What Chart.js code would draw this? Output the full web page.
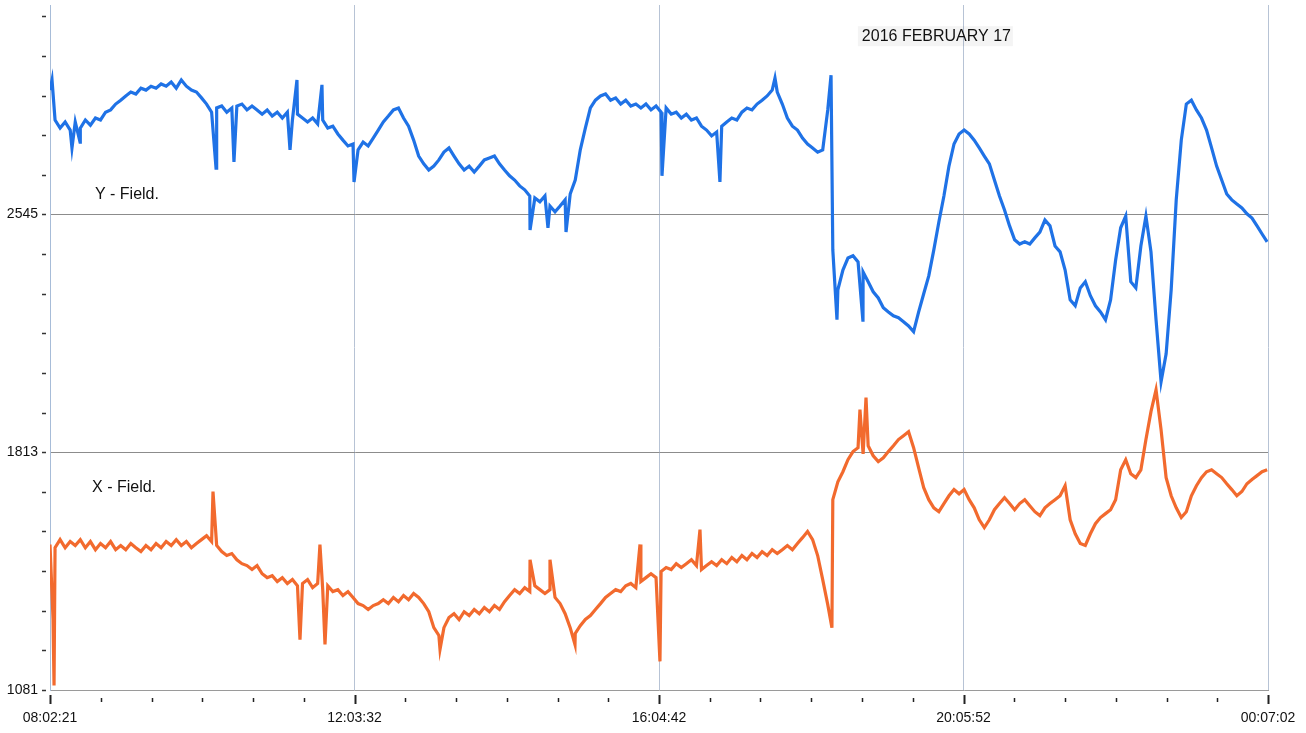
<!DOCTYPE html>
<html>
<head>
<meta charset="utf-8">
<script src="https://cdn.jsdelivr.net/npm/chart.js@4/dist/chart.umd.min.js"></script>
<style>
  html, body { margin: 0; padding: 0; background: #fff; }
  #wrap { position: relative; width: 1306px; height: 733px; }
</style>
</head>
<body>
<div id="wrap"><canvas id="c" width="1306" height="733"></canvas></div>
<script>
// ---- tick labels / axis definitions ----
const xTickLabels = ['08:02:21', '12:03:32', '16:04:42', '20:05:52', '00:07:02'];
const spanMinutes = 964.683;        // 08:02:21 -> 00:07:02
const minorPerMajor = 6;
const sampleStepMinutes = 4;        // spacing of the sampled readings
const yTickBase = 1081;
const yTickStep = 122;
const yTickCount = 18;
const yLabelledTicks = [1081, 1813, 2545];
const seriesNames = ['Y - Field.', 'X - Field.'];
const dateTitle = '2016 FEBRUARY 17';

// ---- Y - Field readings (every 4 minutes) ----
const yFieldValues = [
 2928,2836,2811,2830,2805,2830,2811,2836,2820,2842,
 2836,2860,2867,2885,2897,2910,2922,2916,2934,2928,
 2940,2934,2947,2940,2953,2934,2959,2940,2928,2922,
 2904,2885,2860,2873,2879,2860,2873,2879,2885,2867,
 2879,2867,2854,2867,2848,2860,2842,2860,2836,2854,
 2842,2830,2842,2824,2836,2811,2817,2793,2774,2756,
 2762,2744,2768,2756,2780,2805,2830,2848,2867,2873,
 2842,2817,2774,2725,2701,2682,2694,2713,2737,2750,
 2725,2701,2682,2694,2676,2694,2713,2719,2725,2701,
 2682,2664,2651,2633,2621,2602,2596,2584,2602,2571,
 2553,2571,2590,2608,2651,2744,2811,2873,2897,2910,
 2916,2897,2904,2885,2897,2879,2885,2873,2885,2867,
 2879,2860,2873,2854,2860,2842,2854,2836,2842,2817,
 2805,2787,2799,2817,2830,2842,2836,2860,2873,2867,
 2885,2897,2910,2928,2922,2885,2842,2817,2805,2780,
 2762,2750,2737,2744,2867,2436,2313,2374,2411,2418,
 2399,2368,2338,2307,2288,2258,2245,2233,2227,2215,
 2202,2184,2245,2301,2356,2436,2522,2602,2694,2762,
 2793,2805,2793,2774,2750,2725,2701,2651,2602,2559,
 2510,2467,2454,2461,2454,2473,2491,2528,2510,2448,
 2430,2374,2282,2264,2319,2338,2295,2264,2245,2221,
 2282,2405,2504,2540,2338,2319,2448,2540,2430,2221,
 2030,2116,2313,2590,2774,2885,2897,2867,2842,2805,
 2750,2694,2651,2608,2590,2577,2565,2547,2534,2510,
 2485,2461
];
// isolated spikes [minute, value]
const yFieldSpikes = [
 [1.6,2959],[17.4,2750],[23.8,2768],[131.5,2688],[145.7,2707],
 [190.1,2744],[195.6,2959],[215.4,2944],[240.8,2645],[380.2,2497],
 [394.4,2504],[408.7,2491],[484.7,2664],[530.6,2645],[574.2,2965],
 [618.6,2974],[623.3,2221],[643.9,2215]
];

// ---- X - Field readings (every 4 minutes) ----
const xFieldValues = [
 1529,1519,1544,1519,1538,1526,1544,1519,1538,1513,
 1532,1519,1538,1513,1526,1513,1532,1519,1507,1526,
 1513,1532,1519,1538,1526,1544,1526,1538,1519,1532,
 1544,1556,1538,1526,1507,1495,1501,1482,1470,1464,
 1452,1464,1439,1427,1433,1415,1427,1409,1421,1402,
 1409,1421,1396,1409,1390,1402,1384,1390,1372,1384,
 1366,1347,1341,1329,1341,1347,1359,1347,1366,1353,
 1372,1359,1378,1366,1347,1322,1273,1249,1273,1304,
 1316,1298,1322,1310,1329,1316,1335,1322,1341,1329,
 1353,1372,1390,1378,1396,1384,1402,1390,1378,1390,
 1366,1347,1316,1273,1255,1279,1298,1310,1329,1347,
 1366,1378,1390,1384,1402,1409,1396,1415,1427,1439,
 1427,1446,1458,1452,1470,1458,1470,1482,1464,1452,
 1464,1476,1464,1482,1470,1489,1476,1495,1482,1501,
 1489,1507,1495,1513,1501,1513,1526,1513,1532,1550,
 1569,1544,1495,1421,1344,1667,1722,1753,1790,1815,
 1827,1808,1833,1802,1784,1796,1815,1833,1852,1864,
 1876,1827,1765,1704,1667,1642,1630,1655,1679,1698,
 1685,1698,1667,1642,1605,1581,1605,1636,1655,1673,
 1655,1636,1655,1667,1648,1630,1618,1642,1655,1667,
 1679,1710,1605,1562,1532,1526,1562,1593,1612,1624,
 1636,1667,1759,1790,1747,1735,1759,1852,1938,2005,
 1882,1735,1679,1642,1612,1630,1679,1710,1735,1753,
 1759,1747,1735,1716,1698,1679,1692,1716,1729,1741,
 1753,1759
];
const xFieldSpikes = [
 [2.4,1300],[3.2,1095],[129.1,1692],[198.0,1236],[213.8,1529],
 [217.8,1221],[308.9,1206],[380.2,1482],[396.0,1482],[415.8,1221],
 [467.3,1529],[483.1,1169],[514.8,1575],[619.3,1273],[641.5,1944],
 [646.3,1981]
];

const seriesColors = ['#1f72e6', '#f26a2e'];

function buildPoints(values, spikes) {
  const pts = values.map((v, i) => ({ x: i * sampleStepMinutes, y: v }));
  spikes.forEach(([t, v]) => pts.push({ x: t, y: v }));
  pts.sort((a, b) => a.x - b.x);
  return pts;
}

const majorTickMinutes = spanMinutes / (xTickLabels.length - 1);
const minorTickMinutes = majorTickMinutes / minorPerMajor;

const decorPlugin = {
  id: 'decor',
  afterDraw(chart) {
    const ctx = chart.ctx;
    const xs = chart.scales.x, ys = chart.scales.y;
    const area = chart.chartArea;
    ctx.save();
    // x tick marks
    xs.ticks.forEach((t, i) => {
      const px = Math.round(xs.getPixelForValue(t.value)) + 0.5;
      const major = i % minorPerMajor === 0;
      ctx.strokeStyle = '#222';
      ctx.lineWidth = major ? 2 : 1.5;
      ctx.beginPath();
      if (major) { ctx.moveTo(px, area.bottom + 5); ctx.lineTo(px, area.bottom + 14); }
      else { ctx.moveTo(px, area.bottom + 8); ctx.lineTo(px, area.bottom + 12); }
      ctx.stroke();
    });
    // y tick marks
    ys.ticks.forEach((t) => {
      const py = Math.round(ys.getPixelForValue(t.value)) + 0.5;
      ctx.strokeStyle = '#333';
      ctx.lineWidth = 1.5;
      ctx.beginPath();
      ctx.moveTo(area.left - 8, py); ctx.lineTo(area.left - 4, py);
      ctx.stroke();
    });
    // texts
    ctx.fillStyle = '#111';
    ctx.font = '16px "Liberation Sans", Arial, sans-serif';
    ctx.textBaseline = 'middle';
    ctx.textAlign = 'left';
    ctx.fillText(seriesNames[0], xs.getPixelForValue(35.6), ys.getPixelForValue(2605));
    ctx.fillText(seriesNames[1], xs.getPixelForValue(33.3), ys.getPixelForValue(1704));
    // date title with faint box
    const tx = xs.getPixelForValue(643), ty = ys.getPixelForValue(3094);
    const w = ctx.measureText(dateTitle).width;
    ctx.fillStyle = 'rgba(0,0,0,0.045)';
    ctx.fillRect(tx - 4, ty - 10, w + 6, 20);
    ctx.fillStyle = '#111';
    ctx.fillText(dateTitle, tx, ty);
    ctx.restore();
  }
};

new Chart(document.getElementById('c'), {
  type: 'line',
  data: {
    datasets: [
      { label: seriesNames[0], data: buildPoints(yFieldValues, yFieldSpikes),
        borderColor: seriesColors[0], borderWidth: 3.2, pointRadius: 0, tension: 0,
        borderJoinStyle: 'miter' },
      { label: seriesNames[1], data: buildPoints(xFieldValues, xFieldSpikes),
        borderColor: seriesColors[1], borderWidth: 3.2, pointRadius: 0, tension: 0,
        borderJoinStyle: 'miter' }
    ]
  },
  options: {
    responsive: false,
    animation: false,
    devicePixelRatio: 1,
    layout: { padding: { left: 0, right: 38, top: 5, bottom: 0 } },
    plugins: { legend: { display: false }, tooltip: { enabled: false } },
    scales: {
      x: {
        type: 'linear', min: 0, max: spanMinutes,
        afterBuildTicks(scale) {
          const arr = [];
          for (let i = 0; i <= minorPerMajor * (xTickLabels.length - 1); i++) arr.push({ value: i * minorTickMinutes });
          scale.ticks = arr;
        },
        afterFit(scale) { scale.height = 43; scale.paddingLeft = 0; scale.paddingRight = 0; },
        border: { display: true, color: '#9a9a9a', width: 1 },
        grid: {
          drawTicks: false,
          color: (c) => (c.index % minorPerMajor === 0 ? '#b7c3d5' : 'rgba(0,0,0,0)'),
          lineWidth: 1
        },
        ticks: {
          autoSkip: false, maxRotation: 0, padding: 20,
          color: '#111',
          font: { family: '"Liberation Sans", Arial, sans-serif', size: 14 },
          callback: (v, i) => (i % minorPerMajor === 0 ? xTickLabels[i / minorPerMajor] : '')
        }
      },
      y: {
        type: 'linear', min: 1081, max: 3190,
        afterBuildTicks(scale) {
          const arr = [];
          for (let i = 0; i < yTickCount; i++) arr.push({ value: yTickBase + i * yTickStep });
          scale.ticks = arr;
        },
        afterFit(scale) { scale.width = 50; scale.paddingTop = 0; scale.paddingBottom = 0; },
        border: { display: true, color: '#a7bcd8', width: 1 },
        grid: {
          drawTicks: false,
          color: (c) => (c.tick && (c.tick.value === 1813 || c.tick.value === 2545) ? '#8c8c8c' : 'rgba(0,0,0,0)'),
          lineWidth: 1
        },
        ticks: {
          autoSkip: false, padding: 12,
          color: '#111',
          font: { family: '"Liberation Sans", Arial, sans-serif', size: 14 },
          callback: (v) => (yLabelledTicks.includes(v) ? String(v) : '')
        }
      }
    }
  },
  plugins: [decorPlugin]
});
</script>
</body>
</html>
